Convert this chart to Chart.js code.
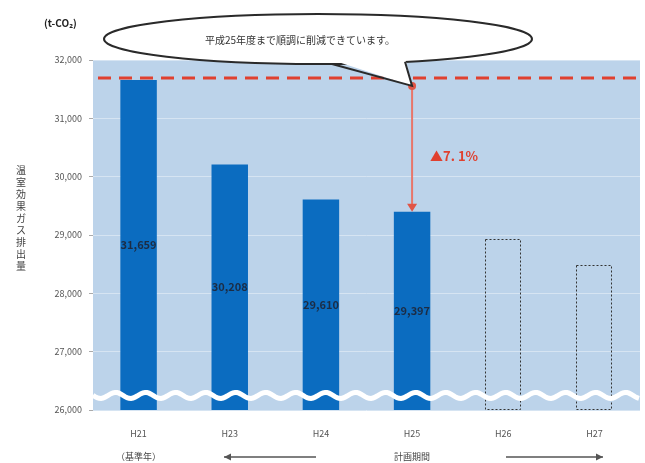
<!DOCTYPE html>
<html>
<head>
<meta charset="utf-8">
<script src="https://cdn.jsdelivr.net/npm/chart.js@4.4.0/dist/chart.umd.min.js"></script>
<style>
  body { margin: 0; background: #fff; }
  canvas { display: block; }
</style>
</head>
<body>
<canvas id="chart" width="645" height="463"></canvas>
<script>
// fiscal years and CO2 emissions (t-CO2); H26/H27 are plan targets
const categories = ['H21', 'H23', 'H24', 'H25', 'H26', 'H27'];
const emissions = [31659, 30208, 29610, 29397, 28930, 28480];
const valueLabels = ['31,659', '30,208', '29,610', '29,397', '', ''];
const isPlan = [false, false, false, false, true, true];
const yMin = 26000, yMax = 32000, yStep = 1000;

const unitLabel = '(t-CO₂)';
const yTitle = '温室効果ガス排出量';
const bubbleText = '平成25年度まで順調に削減できています。';
const baseYearNote = '（基準年）';
const periodNote = '計画期間';
const baseIdx = 0, compareIdx = 3;
const reduction = (emissions[baseIdx] - emissions[compareIdx]) / emissions[baseIdx] * 100;
const reductionLabel = '▲' + reduction.toFixed(1).replace('.', '. ') + '%';

const FONT = '"Noto Sans CJK JP", "Noto Sans", sans-serif';
const BAR = '#0b6cc0';
const RED = '#e0402f';

const decor = {
  id: 'decor',
  beforeDraw(chart) {
    const { ctx, chartArea: a } = chart;
    ctx.save();
    ctx.fillStyle = '#bcd3ea';
    ctx.fillRect(a.left, a.top, a.right - a.left, a.bottom - a.top);
    ctx.restore();
  },
  afterDatasetsDraw(chart) {
    const { ctx, chartArea: a, scales: { y } } = chart;
    const meta = chart.getDatasetMeta(0);
    ctx.save();

    // planned years: dotted outline boxes
    ctx.strokeStyle = '#333';
    ctx.lineWidth = 1;
    ctx.setLineDash([2, 2]);
    meta.data.forEach((bar, i) => {
      if (!isPlan[i]) return;
      const w = bar.width;
      ctx.strokeRect(Math.round(bar.x - w / 2) + 0.5, Math.round(bar.y) + 0.5, Math.round(w) - 1, a.bottom - Math.round(bar.y) - 1);
    });
    ctx.setLineDash([]);

    // value labels inside bars
    ctx.fillStyle = '#1c2c44';
    ctx.font = 'bold 11px ' + FONT;
    ctx.textAlign = 'center';
    ctx.textBaseline = 'middle';
    meta.data.forEach((bar, i) => {
      if (!valueLabels[i]) return;
      ctx.fillText(valueLabels[i], bar.x, (bar.y + a.bottom) / 2);
    });

    // axis break: white wave across the plot
    const wy = y.getPixelForValue(yMin + 250);
    ctx.strokeStyle = '#ffffff';
    ctx.lineWidth = 5;
    ctx.beginPath();
    for (let x = a.left; x <= a.right; x += 2) {
      const yy = wy + 3 * Math.sin((x - a.left) / 30 * Math.PI * 2);
      if (x === a.left) ctx.moveTo(x, yy); else ctx.lineTo(x, yy);
    }
    ctx.stroke();
    ctx.restore();
  },
  afterDraw(chart) {
    const { ctx, chartArea: a, scales: { x, y } } = chart;
    const meta = chart.getDatasetMeta(0);
    ctx.save();

    // base-year reference line
    const refY = y.getPixelForValue(emissions[baseIdx]) - 2;
    ctx.strokeStyle = RED;
    ctx.lineWidth = 3;
    ctx.setLineDash([13, 8]);
    ctx.beginPath();
    ctx.moveTo(a.left + 5, refY);
    ctx.lineTo(a.right, refY);
    ctx.stroke();
    ctx.setLineDash([]);

    // reduction arrow
    const ax = meta.data[compareIdx].x;
    const ay2 = y.getPixelForValue(emissions[compareIdx]);
    ctx.strokeStyle = '#e8766a';
    ctx.lineWidth = 2;
    ctx.beginPath();
    ctx.moveTo(ax, refY + 8);
    ctx.lineTo(ax, ay2 - 6);
    ctx.stroke();
    ctx.fillStyle = '#e05547';
    ctx.beginPath();
    ctx.moveTo(ax - 5, ay2 - 8);
    ctx.lineTo(ax + 5, ay2 - 8);
    ctx.lineTo(ax, ay2);
    ctx.closePath();
    ctx.fill();
    ctx.beginPath();
    ctx.arc(ax, refY + 8, 4, 0, Math.PI * 2);
    ctx.fill();

    // reduction label
    ctx.fillStyle = RED;
    ctx.font = 'bold 13px ' + FONT;
    ctx.textAlign = 'left';
    ctx.textBaseline = 'middle';
    ctx.fillText(reductionLabel, ax + 18, y.getPixelForValue(30350));

    // speech bubble
    const cx = 318, cy = 39, rx = 214, ry = 25;
    ctx.fillStyle = '#fff';
    ctx.strokeStyle = '#2a2a2a';
    ctx.lineWidth = 2;
    ctx.beginPath();
    ctx.ellipse(cx, cy, rx, ry, 0, 0, Math.PI * 2);
    ctx.fill();
    ctx.stroke();
    const tip = { x: ax, y: refY + 8 };
    const b1 = { x: 332, y: cy + ry * Math.sqrt(1 - ((332 - cx) / rx) ** 2) };
    const b2 = { x: 405, y: cy + ry * Math.sqrt(1 - ((405 - cx) / rx) ** 2) };
    ctx.beginPath();
    ctx.moveTo(b1.x, b1.y - 4);
    ctx.lineTo(tip.x, tip.y);
    ctx.lineTo(b2.x, b2.y - 4);
    ctx.closePath();
    ctx.fill();
    ctx.beginPath();
    ctx.moveTo(b1.x, b1.y);
    ctx.lineTo(tip.x, tip.y);
    ctx.lineTo(b2.x, b2.y);
    ctx.stroke();
    ctx.fillStyle = '#333';
    ctx.font = '10px ' + FONT;
    ctx.textAlign = 'center';
    ctx.fillText(bubbleText, 300, cy + 1);

    // unit label
    ctx.font = 'bold 10px ' + FONT;
    ctx.fillStyle = '#222';
    ctx.textAlign = 'left';
    ctx.fillText(unitLabel, 44, 23);

    // vertical y-axis title
    ctx.font = '10px ' + FONT;
    ctx.fillStyle = '#444';
    ctx.textAlign = 'center';
    [...yTitle].forEach((ch, i) => ctx.fillText(ch, 21, 170 + i * 12));

    // bottom notes and period arrows
    const rowY = 457;
    ctx.font = '9px ' + FONT;
    ctx.fillStyle = '#444';
    ctx.fillText(baseYearNote, x.getPixelForValue(0), rowY);
    ctx.fillText(periodNote, x.getPixelForValue(compareIdx), rowY);
    ctx.strokeStyle = '#555';
    ctx.fillStyle = '#555';
    ctx.lineWidth = 1.5;
    const arrow = (x1, x2) => {
      ctx.beginPath();
      ctx.moveTo(x1, rowY);
      ctx.lineTo(x2, rowY);
      ctx.stroke();
      const d = x2 > x1 ? -1 : 1;
      ctx.beginPath();
      ctx.moveTo(x2, rowY);
      ctx.lineTo(x2 + d * 7, rowY - 3.5);
      ctx.lineTo(x2 + d * 7, rowY + 3.5);
      ctx.closePath();
      ctx.fill();
    };
    arrow(316, 224);
    arrow(506, 603);
    ctx.restore();
  }
};

new Chart(document.getElementById('chart'), {
  type: 'bar',
  data: {
    labels: categories,
    datasets: [{
      data: emissions,
      backgroundColor: isPlan.map(p => p ? 'rgba(0,0,0,0)' : BAR),
      borderWidth: 0,
      categoryPercentage: 1,
      barPercentage: 0.4
    }]
  },
  options: {
    responsive: false,
    animation: false,
    layout: { padding: { top: 60, right: 5, left: 0, bottom: 0 } },
    plugins: { legend: { display: false }, tooltip: { enabled: false } },
    scales: {
      x: {
        grid: { display: false },
        border: { display: false },
        ticks: { color: '#555', font: { family: FONT, size: 9 }, padding: 10 },
        afterFit: s => { s.height = 53; }
      },
      y: {
        min: yMin,
        max: yMax,
        border: { display: false },
        grid: { color: '#d6e4f2', tickColor: '#aaa', tickLength: 4 },
        ticks: {
          stepSize: yStep,
          color: '#555',
          padding: 7,
          font: { family: FONT, size: 9 },
          callback: v => v.toLocaleString('en-US')
        },
        afterFit: s => { s.width = 93; }
      }
    }
  },
  plugins: [decor]
});
</script>
</body>
</html>
